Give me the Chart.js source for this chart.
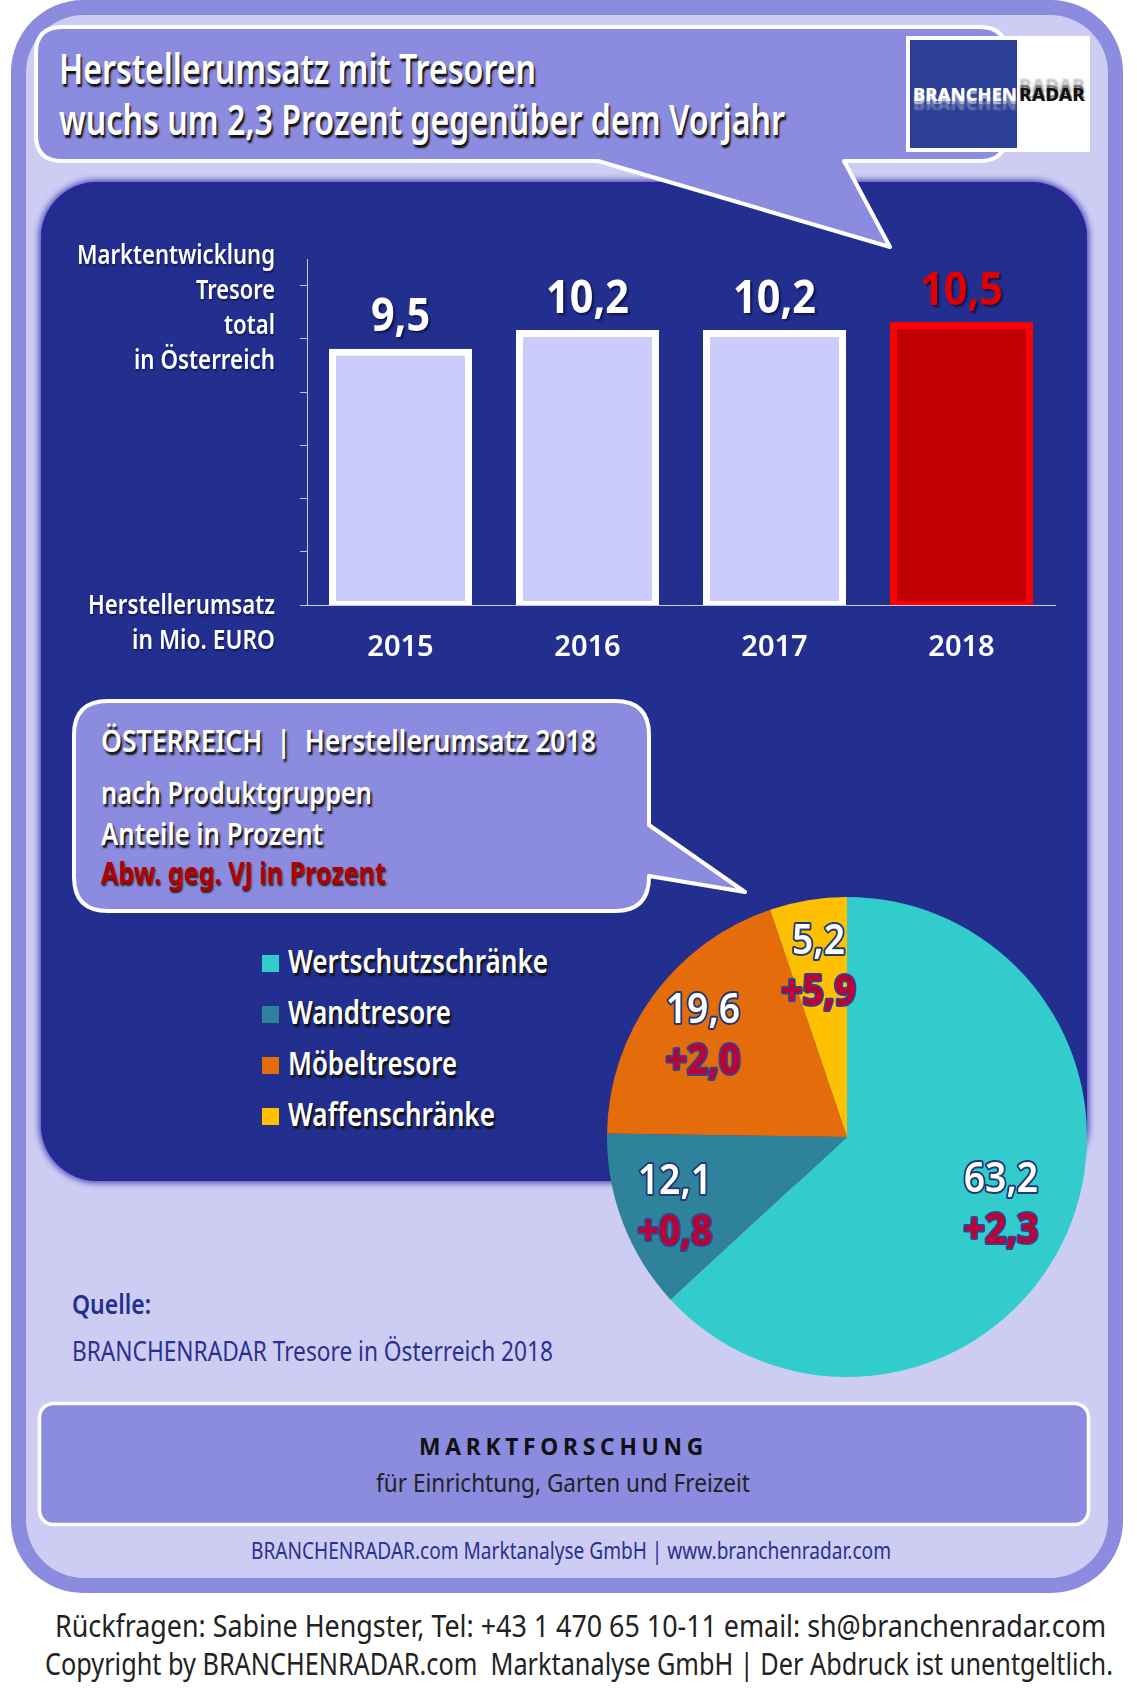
<!DOCTYPE html>
<html lang="de">
<head>
<meta charset="utf-8">
<title>Herstellerumsatz mit Tresoren</title>
<script src="https://cdn.jsdelivr.net/npm/chart.js@4"></script>
<style>
  html, body { margin: 0; padding: 0; background: #fff; }
  #page { position: relative; width: 1137px; height: 1688px; overflow: hidden; font-family: "Noto Sans", sans-serif; }
  .abs { position: absolute; }
  #outer { left: 11px; top: 0; width: 1112px; height: 1593px; background: #8b8be0; border-radius: 72px; }
  #inner { left: 26px; top: 15px; width: 1082px; height: 1563px; background: #cdcdf3; border-radius: 58px; }
  #dark { left: 41px; top: 182px; width: 1046px; height: 999px; background: #232f8e; border-radius: 56px;
          box-shadow: 0 0 6px 2px rgba(42,34,166,.8), inset 0 0 10px #2a22a6; }
  #logo { left: 906px; top: 36px; width: 184px; height: 116px; background: #fff; }
  #logoBlue { left: 4px; top: 4px; width: 107px; height: 108px; background: #2b3f94; }
  svg { position: absolute; left: 0; top: 0; }
  canvas { position: absolute; }
  .t { position: absolute; white-space: pre; transform-origin: left center; line-height: 1; }
  .swatch { position: absolute; width: 17px; height: 17px; }
</style>
</head>
<body>
<div id="page">
  <div id="outer" class="abs"></div>
  <div id="inner" class="abs"></div>
  <div id="dark" class="abs"></div>
  <svg width="1137" height="1688">
    <path d="M62 27 H980 Q1006 27 1006 53 V135 Q1006 161 980 161 H844 L890 247 L598 161 H62 Q36 161 36 135 V53 Q36 27 62 27 Z"
          fill="#8b8be0" stroke="#fff" stroke-width="4" stroke-linejoin="round"/>
    <path d="M108 701 H615 Q649 701 649 735 V825 L745 892 L649 876 V877 Q649 911 615 911 H108 Q74 911 74 877 V735 Q74 701 108 701 Z"
          fill="#8b8be0" stroke="#fff" stroke-width="4" stroke-linejoin="round"/>
    <rect x="39.5" y="1403.5" width="1049" height="121" rx="14" fill="#8b8be0" stroke="#fff" stroke-width="3.5"/>
  </svg>
  <div id="logo" class="abs"><div id="logoBlue" class="abs"></div></div>
  <canvas id="barChart" width="840" height="430" style="left:250px;top:240px"></canvas>
  <canvas id="pieChart" width="500" height="500" style="left:597px;top:887px"></canvas>
  <div id="texts"></div>
</div>
<script>
// Marktentwicklung
const years = ['2015', '2016', '2017', '2018'];
const revenue = [9.5, 10.2, 10.2, 10.5];
const barFill = ['#ccccfc', '#ccccfc', '#ccccfc', '#c00000'];
const barEdge = ['#ffffff', '#ffffff', '#ffffff', '#ff0000'];
const barText = ['#ffffff', '#ffffff', '#ffffff', '#e00000'];

// Produktgruppen
const groups = ['Wertschutzschränke', 'Wandtresore', 'Möbeltresore', 'Waffenschränke'];
const shares = [63.2, 12.1, 19.6, 5.2];
const changes = [2.3, 0.8, 2.0, 5.9];
const groupColors = ['#33cccc', '#2f829c', '#e46c0a', '#ffc000'];

const FONT = '"Noto Sans", sans-serif';
const comma = (v) => v.toFixed(1).replace('.', ',');

// text, left, middle y, width on the page, font size, style
const heavy = '2px 3px 2px #111';
const soft = '1px 2px 2px #141a5c';
const pageTexts = [
  ['Herstellerumsatz mit Tresoren', 59, 68, 477, 41, { weight: 600, color: '#fff', shadow: heavy }],
  ['wuchs um 2,3 Prozent gegenüber dem Vorjahr', 59, 119, 726, 41, { weight: 600, color: '#fff', shadow: heavy }],
  ['Marktentwicklung', 77, 253, 198, 27, { weight: 600, color: '#fff', shadow: soft }],
  ['Tresore', 196, 288, 79, 27, { weight: 600, color: '#fff', shadow: soft }],
  ['total', 224, 323, 51, 27, { weight: 600, color: '#fff', shadow: soft }],
  ['in Österreich', 134, 358, 141, 27, { weight: 600, color: '#fff', shadow: soft }],
  ['Herstellerumsatz', 88, 603, 187, 27, { weight: 600, color: '#fff', shadow: soft }],
  ['in Mio. EURO', 132, 638, 143, 27, { weight: 600, color: '#fff', shadow: soft }],
  ['ÖSTERREICH  |  Herstellerumsatz 2018', 101, 741, 495, 30, { weight: 600, color: '#fff', shadow: heavy }],
  ['nach Produktgruppen', 101, 793, 271, 30, { weight: 600, color: '#fff', shadow: heavy }],
  ['Anteile in Prozent', 101, 834, 222, 30, { weight: 600, color: '#fff', shadow: heavy }],
  ['Abw. geg. VJ in Prozent', 101, 873, 285, 30, { weight: 700, color: '#b00000', shadow: '1px 2px 2px #222' }],
  ['Quelle:', 72, 1303, 79, 27, { weight: 600, color: '#232f8e' }],
  ['BRANCHENRADAR Tresore in Österreich 2018', 72, 1350, 481, 27, { weight: 400, color: '#2b3090' }],
  ['MARKTFORSCHUNG', 419, 1446, 289, 24, { weight: 700, color: '#111', spacing: '5px' }],
  ['für Einrichtung, Garten und Freizeit', 376, 1482, 374, 26, { weight: 400, color: '#222' }],
  ['BRANCHENRADAR.com Marktanalyse GmbH | www.branchenradar.com', 251, 1550, 640, 23, { weight: 400, color: '#2b3090' }],
  ['Rückfragen: Sabine Hengster, Tel: +43 1 470 65 10-11 email: sh@branchenradar.com', 55, 1625, 1051, 31, { weight: 400, color: '#222' }],
  ['Copyright by BRANCHENRADAR.com  Marktanalyse GmbH | Der Abdruck ist unentgeltlich.', 45, 1663, 1068, 31, { weight: 400, color: '#222' }],
  ['BRANCHEN', 913, 94, 104, 17, { weight: 800, color: '#fff', shadow: '0 3px 1px rgba(255,255,255,.55), 0 9px 2px rgba(255,255,255,.3)' }],
  ['RADAR', 1019, 94, 66, 17, { weight: 800, color: '#111', shadow: '0 -3px 1px rgba(0,0,0,.45), 0 -9px 2px rgba(0,0,0,.25)' }],
];

const legendY = [961, 1012, 1063, 1114];
const legendWidth = [260, 163, 169, 207];

const holder = document.getElementById('texts');

function addText(str, x, y, w, size, st) {
  const el = document.createElement('span');
  el.className = 't';
  el.textContent = str;
  el.style.left = x + 'px';
  el.style.top = y + 'px';
  el.style.fontSize = size + 'px';
  el.style.fontWeight = st.weight;
  el.style.color = st.color;
  if (st.shadow) el.style.textShadow = st.shadow;
  if (st.spacing) el.style.letterSpacing = st.spacing;
  holder.appendChild(el);
  // the original lettering is much narrower than any installed face
  const k = w / el.getBoundingClientRect().width;
  el.style.transform = `translateY(-50%) scaleX(${k})`;
}

pageTexts.forEach((t) => addText(...t));

groups.forEach((g, i) => {
  const sw = document.createElement('div');
  sw.className = 'swatch';
  sw.style.left = '262px';
  sw.style.top = (legendY[i] - 6) + 'px';
  sw.style.background = groupColors[i];
  holder.appendChild(sw);
  addText(g, 288, legendY[i], legendWidth[i], 32, { weight: 600, color: '#fff', shadow: heavy });
});

// value above each bar
const barLabels = {
  id: 'barLabels',
  afterDatasetsDraw(chart) {
    const { ctx } = chart;
    chart.getDatasetMeta(0).data.forEach((bar, i) => {
      ctx.save();
      ctx.translate(bar.x, bar.y - 34);
      ctx.scale(0.9, 1);
      ctx.font = `700 46px ${FONT}`;
      ctx.textAlign = 'center';
      ctx.textBaseline = 'middle';
      ctx.shadowColor = '#10154f';
      ctx.shadowOffsetX = 2;
      ctx.shadowOffsetY = 2;
      ctx.shadowBlur = 2;
      ctx.fillStyle = barText[i];
      ctx.fillText(comma(revenue[i]), 0, 0);
      ctx.restore();
    });
  },
};

// share and change, anchored on each slice
const sliceShift = [[44, -5], [-60, 2], [-47, -55], [-9, -76]];
const pieLabels = {
  id: 'pieLabels',
  afterDatasetsDraw(chart) {
    const { ctx } = chart;
    chart.getDatasetMeta(0).data.forEach((arc, i) => {
      const c = arc.getCenterPoint();
      ctx.save();
      ctx.translate(c.x + sliceShift[i][0], c.y + sliceShift[i][1]);
      ctx.scale(0.91, 1);
      ctx.font = `600 41px ${FONT}`;
      ctx.textAlign = 'center';
      ctx.textBaseline = 'middle';
      ctx.lineJoin = 'round';
      ctx.lineWidth = 4;
      ctx.strokeStyle = '#1f3a78';
      ctx.fillStyle = '#ffffff';
      ctx.strokeText(comma(shares[i]), 0, 0);
      ctx.fillText(comma(shares[i]), 0, 0);
      ctx.font = `700 41px ${FONT}`;
      ctx.strokeStyle = '#3a3f8f';
      ctx.fillStyle = '#c00030';
      ctx.strokeText('+' + comma(changes[i]), 0, 51);
      ctx.fillText('+' + comma(changes[i]), 0, 51);
      ctx.restore();
    });
  },
};

new Chart(document.getElementById('barChart'), {
  type: 'bar',
  data: {
    labels: years,
    datasets: [{
      data: revenue,
      backgroundColor: barFill,
      borderColor: barEdge,
      borderWidth: 7,
      borderSkipped: false,
      inflateAmount: 3.5,
      barThickness: 136,
      clip: { left: 20, top: 20, right: 20, bottom: 0 },
    }],
  },
  options: {
    responsive: false,
    animation: false,
    layout: { padding: { top: 19, right: 35, left: 0, bottom: 0 } },
    plugins: { legend: { display: false }, tooltip: { enabled: false } },
    scales: {
      x: {
        grid: { display: false },
        border: { color: '#c8c8e8', width: 1, z: 1 },
        ticks: { color: '#fff', padding: 17, font: { family: FONT, size: 29, weight: '600' } },
        afterFit(scale) { scale.height = 65; },
      },
      y: {
        min: 0,
        max: 13,
        grid: { drawOnChartArea: false, tickLength: 7, color: '#c8c8e8' },
        border: { color: '#c8c8e8', width: 1 },
        ticks: { stepSize: 2, includeBounds: false, display: false },
        afterFit(scale) { scale.width = 57; },
      },
    },
  },
  plugins: [barLabels],
});

new Chart(document.getElementById('pieChart'), {
  type: 'pie',
  data: {
    labels: groups,
    datasets: [{ data: shares, backgroundColor: groupColors, borderWidth: 0 }],
  },
  options: {
    responsive: false,
    animation: false,
    layout: { padding: 10 },
    plugins: { legend: { display: false }, tooltip: { enabled: false } },
  },
  plugins: [pieLabels],
});
</script>
</body>
</html>
